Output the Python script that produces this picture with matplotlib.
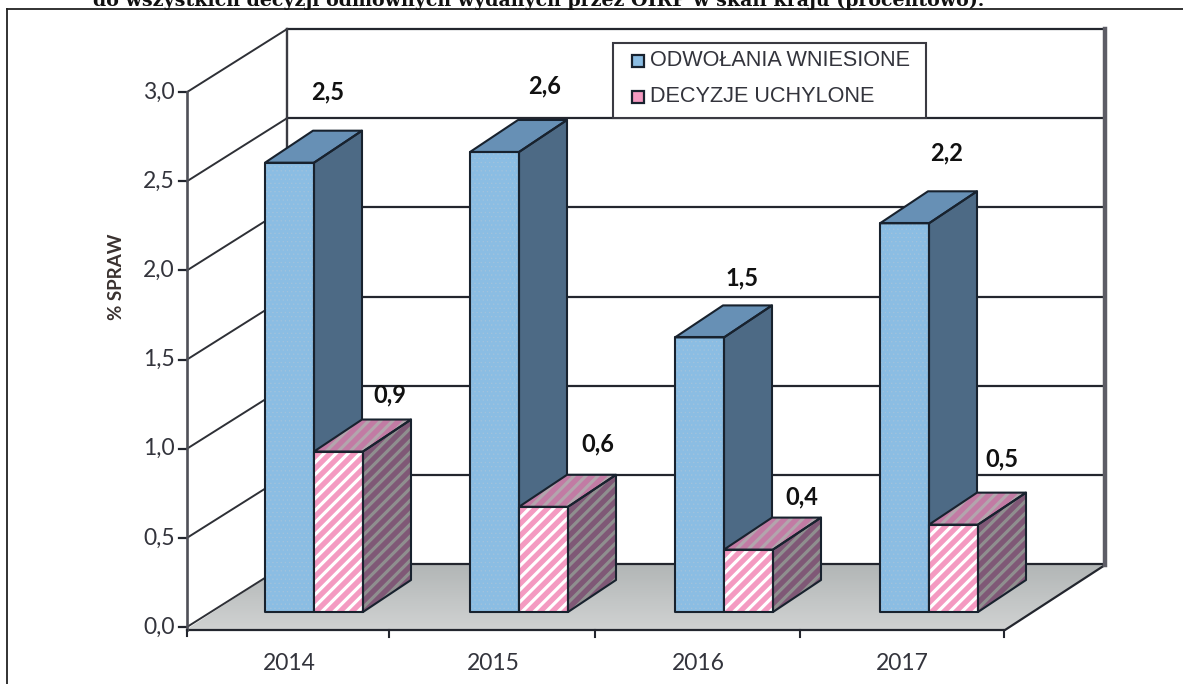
import numpy as np
import matplotlib
matplotlib.use("Agg")
import matplotlib.pyplot as plt
from matplotlib.patches import Polygon, Rectangle

years = ["2014", "2015", "2016", "2017"]
# bar heights as measured on the picture, the printed labels are rounded
wniesione = [2.52, 2.58, 1.54, 2.18]
uchylone = [0.90, 0.59, 0.35, 0.49]
wniesione_txt = ["2,5", "2,6", "1,5", "2,2"]
uchylone_txt = ["0,9", "0,6", "0,4", "0,5"]
y_ticks = [0.0, 0.5, 1.0, 1.5, 2.0, 2.5, 3.0]
y_tick_labels = ["0,0", "0,5", "1,0", "1,5", "2,0", "2,5", "3,0"]

W, H = 1183, 684
GROUP_PX = 205.0    # pixels per category
VALUE_PX = 178.3    # pixels per value unit
X0_PX = 314.0       # centre of the first group
Y0_PX = 627.0       # value 0 on the front of the left wall

plt.rcParams["hatch.linewidth"] = 0.4
plt.rcParams["font.family"] = ["Lato", "DejaVu Sans"]

fig = plt.figure(figsize=(W / 100, H / 100), dpi=100)
ax = fig.add_axes([0, 0, 1, 1])


def X(px):
    return (px - X0_PX) / GROUP_PX


def Y(py):
    return (Y0_PX - py) / VALUE_PX


def pline(xs, ys, color="#23262e", lw=1.5, z=2):
    ax.plot([X(p) for p in xs], [Y(p) for p in ys], color=color, lw=lw, zorder=z,
            solid_capstyle="projecting")


# page frame and the clipped caption above it
pline([7, 7], [9, 684], color="#222222", lw=1.3)
pline([7, 1183], [9, 9], color="#222222", lw=1.3)
ax.text(X(539), Y(6), "do wszystkich decyzji odmownych wydanych przez OIRP w skali kraju (procentowo).",
        family="DejaVu Serif", weight="bold", fontsize=13.7, ha="center", va="baseline", color="#111111")

# floor
fl = [(187, 629), (1005, 630), (1105, 565), (287, 564)]
grad = np.linspace(0, 1, 64).reshape(-1, 1)
im = ax.imshow(grad, cmap=matplotlib.colors.LinearSegmentedColormap.from_list("f", ["#b2b6b6", "#d0d2d2"]),
               extent=[X(187), X(1105), Y(630), Y(564)], aspect="auto", zorder=1)
floor = Polygon([(X(a), Y(b)) for a, b in fl], closed=True, fc="none", ec="none", zorder=1)
ax.add_patch(floor)
im.set_clip_path(floor)
pline([187, 1005, 1105], [630, 630, 565], lw=1.6, z=2)

# walls, gridlines, ticks
for t, lab in zip(y_ticks, y_tick_labels):
    yf = Y0_PX - t * VALUE_PX
    pline([187, 287], [yf, yf - 63], lw=1.4, color="#2e3036")
    pline([287, 1105], [yf - 63, yf - 63], lw=1.6)
    pline([179, 187], [yf, yf], lw=1.6)
    ax.text(X(175), t, lab, ha="right", va="center", fontsize=16.5, color="#33343c", zorder=5)
pline([187, 187], [92, 630], lw=1.9, color="#4f5057")
pline([287, 287], [29, 564], lw=1.7, color="#3a3b42")
pline([1105, 1105], [29, 565], color="#5d5d66", lw=3.2)
for px in [389, 595, 800, 1004]:
    pline([px, px], [630, 637], lw=1.5)
pline([187, 187], [630, 636], lw=1.5)

ax.text(X(116), Y(277), "% SPRAW", rotation=90, ha="center", va="center", fontsize=13.5,
        weight="bold", color="#3a3230", zorder=5)

# bars
BW = 49 / GROUP_PX
DX = 48 / GROUP_PX
DY = 32 / VALUE_PX
BASE = 15 / VALUE_PX
EDGE = "#18222e"
STRIPE_PX = 12.0


def stripes(patch, pts, color, lw, z):
    # diagonal stripes clipped to one face of a bar
    xs = [p[0] * GROUP_PX for p in pts]
    ys = [p[1] * VALUE_PX for p in pts]
    lo = min(x - y for x, y in zip(xs, ys)) - STRIPE_PX
    hi = max(x - y for x, y in zip(xs, ys)) + STRIPE_PX
    for c in np.arange(lo, hi, STRIPE_PX):
        y0, y1 = min(ys), max(ys)
        ln, = ax.plot([(y0 + c) / GROUP_PX, (y1 + c) / GROUP_PX], [y0 / VALUE_PX, y1 / VALUE_PX],
                      color=color, lw=lw, zorder=z, solid_capstyle="butt")
        ln.set_clip_path(patch)


def box(x0, v, colors, stripe_cols, z):
    x1 = x0 + BW
    b = BASE
    top = v + BASE
    faces = [
        [(x0, b), (x1, b), (x1, top), (x0, top)],
        [(x1, b), (x1 + DX, b + DY), (x1 + DX, top + DY), (x1, top)],
        [(x0, top), (x1, top), (x1 + DX, top + DY), (x0 + DX, top + DY)],
    ]
    for k, (pts, fc, sc) in enumerate(zip(faces, colors, stripe_cols)):
        # faint dots on the plain blue front face only
        dotted = k == 0 and sc is None
        p = Polygon(pts, closed=True, fc=fc, ec="#a3c3dc" if dotted else fc, lw=0,
                    hatch="...." if dotted else None, zorder=z)
        ax.add_patch(p)
        if sc:
            stripes(p, pts, sc, 2.3, z + 0.01)
        ax.add_patch(Polygon(pts, closed=True, fc="none", ec=EDGE, lw=1.5, zorder=z + 0.02, joinstyle="round"))


blue = ["#8bbde3", "#4d6a85", "#6790b5"]
pink = ["#f49ac1", "#7f5876", "#c27ba4"]
pink_stripes = ["#ffffff", "#8f8f8f", "#b3a5ad"]

for i in range(len(years)):
    box(i - BW, wniesione[i], blue, [None, None, None], 3 + i * 0.1)
    box(i, uchylone[i], pink, pink_stripes, 3.5 + i * 0.1)

# value labels, pixel offsets from the group centre and the front top edge
w_off = [(14, 71), (26, 66), (18, 59), (18, 70)]
u_off = [(76, 57), (79, 63), (78, 53), (73, 66)]
for i in range(len(years)):
    dx, dy = w_off[i]
    ax.text(i + dx / GROUP_PX, wniesione[i] + BASE + dy / VALUE_PX, wniesione_txt[i],
            ha="center", va="center", weight="bold", fontsize=17, color="#111111", zorder=6)
    dx, dy = u_off[i]
    ax.text(i + dx / GROUP_PX, uchylone[i] + BASE + dy / VALUE_PX, uchylone_txt[i],
            ha="center", va="center", weight="bold", fontsize=17, color="#111111", zorder=6)

# category labels
for px, lab in zip([289, 493, 698, 902], years):
    ax.text(X(px), Y(663), lab, ha="center", va="center", fontsize=16.5, color="#33343c", zorder=5)

# legend box
ax.add_patch(Rectangle((X(613), Y(118)), X(926) - X(613), Y(43) - Y(118), fc="white", ec="#3a3a42", lw=1.5, zorder=2.5))
ax.add_patch(Rectangle((X(632), Y(67)), 12 / GROUP_PX, 12 / VALUE_PX, fc="#8bbde3", ec=EDGE, lw=1.6, zorder=3))
ax.add_patch(Rectangle((X(632), Y(103)), 12 / GROUP_PX, 12 / VALUE_PX, fc="#f49ac1", ec=EDGE, lw=1.6, zorder=3))
ax.text(X(650), Y(61), "ODWOŁANIA WNIESIONE", family="Liberation Sans", fontsize=15.6, va="center", color="#33343c", zorder=3)
ax.text(X(650), Y(97), "DECYZJE UCHYLONE", family="Liberation Sans", fontsize=15.6, va="center", color="#33343c", zorder=3)

ax.set_xlim(-X0_PX / GROUP_PX, (W - X0_PX) / GROUP_PX)
ax.set_ylim((Y0_PX - H) / VALUE_PX, Y0_PX / VALUE_PX)
ax.axis("off")

fig.savefig("out.png", dpi=100, facecolor="white")
